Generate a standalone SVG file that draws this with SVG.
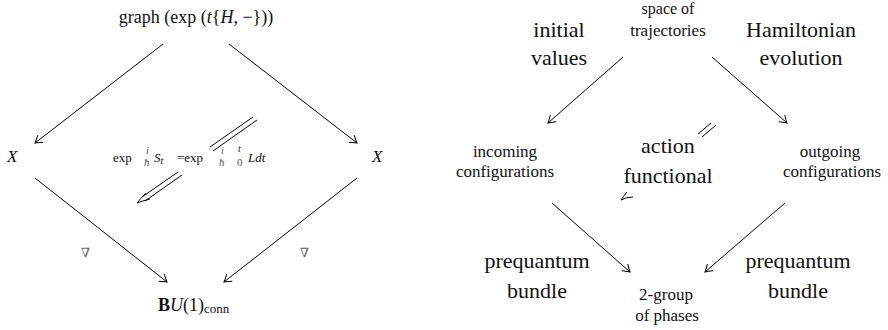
<svg xmlns="http://www.w3.org/2000/svg" width="888" height="330" viewBox="0 0 888 330" font-family="'Liberation Serif', 'DejaVu Serif', serif">
<defs>
<marker id="ah" markerWidth="12" markerHeight="12" refX="0" refY="0" viewBox="-8 -6 10 12" orient="auto" markerUnits="userSpaceOnUse">
<path d="M -7,-4.5 Q -2,-1 0,0 Q -2,1 -7,4.5" fill="none" stroke="#000" stroke-width="1"/>
</marker>
<style>
text{font-family:'Liberation Serif','DejaVu Serif',serif;fill:#111}
.big{font-size:22px;text-anchor:middle}
.mid{font-size:17px;text-anchor:middle}
.sm{font-size:13px}
.c{stroke:#000;stroke-width:1;fill:none}
.ar{marker-end:url(#ah)}
.it{font-style:italic}
</style>
</defs>
<g id="connectors">
<line class="c ar" x1="163" y1="44" x2="35" y2="143"/>
<line class="c ar" x1="229" y1="44" x2="357" y2="143"/>
<line class="c ar" x1="35" y1="178" x2="167" y2="282"/>
<line class="c ar" x1="357" y1="178" x2="224" y2="282"/>
<line class="c" x1="210" y1="147" x2="253" y2="117"/>
<line class="c" x1="213" y1="151" x2="257" y2="120"/>
<line class="c" x1="178" y1="172" x2="142" y2="197"/>
<line class="c" x1="182" y1="175" x2="145" y2="201"/>
<path class="c" d="M 146,193 Q 140,199 137,203 Q 142,201 150,199"/>
<line class="c ar" x1="623" y1="57" x2="548" y2="123"/>
<line class="c ar" x1="712" y1="57" x2="787" y2="123"/>
<line class="c ar" x1="552" y1="203" x2="630" y2="272"/>
<line class="c ar" x1="785" y1="203" x2="705" y2="272"/>
<line class="c" x1="698" y1="134" x2="711" y2="123"/>
<line class="c" x1="702" y1="137" x2="716" y2="125"/>
<path class="c" d="M 627,192 Q 623,197 621,200 Q 626,197 633,197"/>
</g>
<g id="n-graph"><text class="mid" style="font-size:18px" x="196" y="23">graph (exp (<tspan class="it">t</tspan>{<tspan class="it">H</tspan>, −}))</text></g>
<g id="n-xl"><text class="it" style="font-size:17px" x="7" y="162">X</text></g>
<g id="n-xr"><text class="it" style="font-size:17px" x="372" y="162">X</text></g>
<g id="n-formula">
<text class="sm" x="113" y="162">exp</text>
<text style="font-size:10px;fill:#555" class="it" x="146" y="154">i</text>
<text style="font-size:11px;fill:#555" class="it" x="144" y="166">ħ</text>
<text class="sm it" x="154" y="162">S<tspan style="font-size:10px" dy="2">t</tspan></text>
<text class="sm" x="177" y="162">=exp</text>
<text style="font-size:10px;fill:#555" class="it" x="221" y="154">i</text>
<text style="font-size:11px;fill:#555" class="it" x="219" y="166">ħ</text>
<text style="font-size:10px" class="it" x="238" y="152">t</text>
<text style="font-size:11px;fill:#555" x="237" y="166">0</text>
<text class="sm it" x="248" y="162">Ldt</text>
</g>
<g id="n-nabla1"><text style="font-size:13px;fill:#666" x="81" y="257">∇</text></g>
<g id="n-nabla2"><text style="font-size:13px;fill:#666" x="300" y="257">∇</text></g>
<g id="n-bu1"><text style="font-size:18px" x="158" y="311"><tspan font-weight="bold">B</tspan><tspan class="it">U</tspan>(1)<tspan style="font-size:13px" dy="2">conn</tspan></text></g>
<g id="n-space"><text class="mid" style="font-size:16px" x="668" y="14">space of</text><text class="mid" style="font-size:17px" x="668" y="36">trajectories</text></g>
<g id="n-init"><text class="big" x="559" y="37">initial</text><text class="big" x="559" y="65">values</text></g>
<g id="n-ham"><text class="big" x="801" y="37">Hamiltonian</text><text class="big" x="801" y="65">evolution</text></g>
<g id="n-incoming"><text class="mid" x="505" y="157">incoming</text><text class="mid" x="505" y="177">configurations</text></g>
<g id="n-action"><text class="big" x="668" y="153">action</text><text class="big" x="668" y="183">functional</text></g>
<g id="n-outgoing"><text class="mid" x="830" y="157">outgoing</text><text class="mid" x="832" y="177">configurations</text></g>
<g id="n-preq1"><text class="big" x="537" y="268">prequantum</text><text class="big" x="537" y="298">bundle</text></g>
<g id="n-preq2"><text class="big" x="798" y="268">prequantum</text><text class="big" x="798" y="298">bundle</text></g>
<g id="n-2group"><text class="mid" x="666" y="300">2-group</text><text class="mid" x="667" y="321">of phases</text></g>
</svg>
